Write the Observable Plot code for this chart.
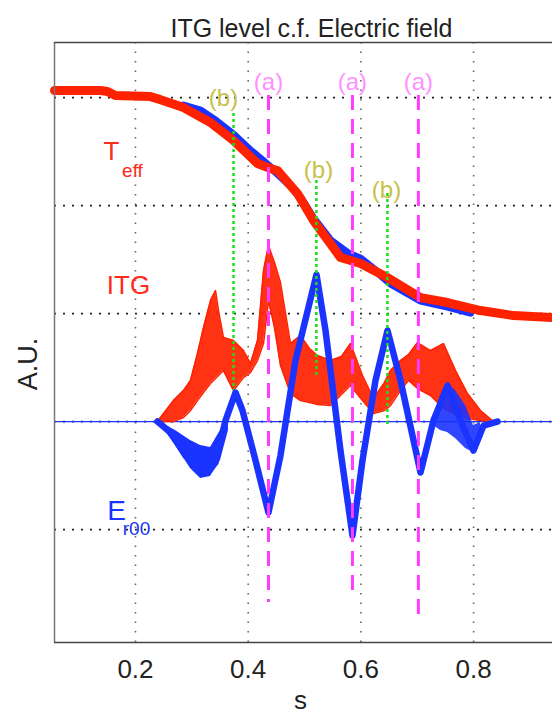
<!DOCTYPE html>
<html><head><meta charset="utf-8">
<script src="https://cdn.jsdelivr.net/npm/d3@7"></script>
<script src="https://cdn.jsdelivr.net/npm/@observablehq/plot@0.6"></script>
<style>html,body{margin:0;padding:0;background:#fff;}</style>
</head><body><div id="chart"></div>
<script>
// ---- data ----
const xTicks = [0.2, 0.4, 0.6, 0.8];
const yGrid = [-1, 0, 1, 2, 3];

// T_eff, red (simulation) and blue (reference)
const tRedS = [0.0563,0.1379,0.1503,0.1645,0.2266,0.2444,0.2852,0.3331,0.3739,0.4165,0.4396,0.4520,0.4875,0.5159,0.5638,0.5993,0.6472,0.7058,0.7537,0.8122,0.8708,0.9400];
const tRedV = [3.065,3.065,3.056,3.019,3.009,2.981,2.907,2.769,2.602,2.389,2.343,2.324,2.111,1.861,1.519,1.463,1.333,1.148,1.102,1.028,0.981,0.963];
const tBlueS = [0.2852,0.3154,0.3420,0.3739,0.4041,0.4254,0.4520,0.4751,0.4928,0.5159,0.5461,0.5763,0.5993,0.6260,0.6526,0.7058,0.7537,0.7945];
const tBlueV = [2.926,2.880,2.787,2.657,2.509,2.417,2.296,2.185,2.074,1.880,1.676,1.560,1.509,1.398,1.278,1.120,1.065,1.009];

// ITG ensemble envelope
const itgS  = [0.2390,0.2674,0.2852,0.2976,0.3100,0.3207,0.3331,0.3420,0.3473,0.3562,0.3739,0.3917,0.4041,0.4165,0.4272,0.4360,0.4467,0.4573,0.4751,0.4928,0.5088,0.5230,0.5461,0.5656,0.5815,0.6028,0.6224,0.6419,0.6525,0.6703,0.6845,0.7004,0.7235,0.7466,0.7679,0.7892,0.8122,0.8353];
const itgHi = [0,0.194,0.287,0.380,0.630,0.870,1.120,1.213,1.028,0.778,0.750,0.657,0.537,0.750,1.398,1.630,1.472,1.287,0.722,0.796,0.676,0.611,0.565,0.602,0.722,0.426,0.213,0.361,0.472,0.565,0.620,0.731,0.657,0.722,0.472,0.259,0.102,0];
const itgLo = [0,0,0.037,0.102,0.194,0.269,0.352,0.398,0.426,0.472,0.287,0.407,0.454,0.565,0.722,1.120,0.870,0.519,0.259,0.194,0.176,0.157,0.148,0.250,0.333,0.194,0.074,0.102,0.148,0.287,0.380,0.306,0.241,0.120,0.065,0.028,0.009,0];

// E_r00 ensemble (centre line + two spread regions)
const eS = [0.2390,0.2621,0.2887,0.3154,0.3278,0.3420,0.3597,0.3775,0.3899,0.4130,0.4360,0.4573,0.4839,0.5212,0.5372,0.5638,0.5851,0.6028,0.6259,0.6472,0.6703,0.7058,0.7288,0.7537,0.7768,0.7998,0.8176,0.8424];
const eV = [0,-0.102,-0.315,-0.417,-0.472,-0.380,0.009,0.269,0.102,-0.361,-0.843,-0.315,0.565,1.361,0.843,-0.269,-1.056,-0.361,0.380,0.843,0.380,-0.472,0.009,0.333,0.009,-0.269,-0.037,0];
const eBlobS  = [0.2444,0.2710,0.2976,0.3154,0.3331,0.3508,0.3650];
const eBlobHi = [-0.009,-0.083,-0.176,-0.222,-0.241,-0.083,0.102];
const eBlobLo = [-0.028,-0.222,-0.435,-0.528,-0.509,-0.361,-0.083];
const eBandS  = [0.7288,0.7413,0.7537,0.7679,0.7857,0.7998,0.8122];
const eBandHi = [0.028,0.241,0.352,0.287,0.148,-0.037,-0.009];
const eBandLo = [-0.037,-0.083,-0.102,-0.157,-0.250,-0.287,-0.065];

// markers (a): ITG peaks / E minima ; (b): E maxima
const aS = [0.436, 0.585, 0.702];
const aTop = [3.019, 3.019, 3.019];
const aBottom = [-1.676, -1.639, -1.796];
const aLabelV = 3.139;
const bS = [0.374, 0.521, 0.647];
const bTop = [2.852, 2.231, 2.111];
const bBottom = [0.287, 0.407, -0.056];
const bLabelS = [0.3562, 0.5248, 0.6454];
const bLabelV = [2.991, 2.324, 2.139];

// text
const titleText = "ITG level c.f. Electric field";
const xLabel = "s";
const yLabel = "A.U.";
const seriesLabels = [
  {s: 0.1574, v: 2.50, t: "T", c: "red", size: 26},
  {s: 0.1947, v: 2.324, t: "eff", c: "red", size: 19},
  {s: 0.1876, v: 1.259, t: "ITG", c: "red", size: 26},
  {s: 0.1663, v: -0.833, t: "E", c: "blue", size: 28},
  {s: 0.2018, v: -0.991, t: "r00", c: "blue", size: 19}
];

// ---- build ----
const pts = (xs, ys) => xs.map((s, i) => ({s, v: ys[i]}));
const band = (xs, hi, lo) => xs.map((s, i) => ({s, hi: hi[i], lo: lo[i]}));
const RED = "#ff2200", BLUE = "#1a33ff", MAG = "#ff3cff", GREEN = "#19e019", OLIVE = "#c8c048";
const colorOf = {red: "#ff2a1a", blue: BLUE};
const font = "'Liberation Sans', Arial, Helvetica, sans-serif";

const itg = band(itgS, itgHi, itgLo);
const eBlob = band(eBlobS, eBlobHi, eBlobLo);
const eBand = band(eBandS, eBandHi, eBandLo);
const aLines = aS.map((s, i) => ({s, y1: aTop[i], y2: aBottom[i]}));
const bLines = bS.map((s, i) => ({s, y1: bTop[i], y2: bBottom[i]}));
const yDom = [-2.046, 3.51], xDom = [0.0563, 0.940];

const chart = Plot.plot({
  width: 552, height: 717,
  marginTop: 42, marginBottom: 75, marginLeft: 54, marginRight: 0,
  style: {fontFamily: font, fontSize: "26px", background: "white", color: "#222", overflow: "visible"},
  x: {domain: xDom, ticks: xTicks, tickFormat: d => d.toFixed(1), tickSize: 0, tickPadding: 17, label: null},
  y: {domain: yDom, axis: null},
  marks: [
    Plot.ruleX(xTicks, {stroke: "#666", strokeDasharray: "1.5,8", strokeWidth: 1.6}),
    Plot.ruleY(yGrid, {stroke: "#222", strokeDasharray: "2,7", strokeWidth: 1.8}),
    Plot.ruleY([0], {stroke: BLUE, strokeWidth: 1.3}),
    // T_eff
    Plot.line(pts(tBlueS, tBlueV), {x: "s", y: "v", stroke: BLUE, strokeWidth: 8, curve: "linear"}),
    Plot.line(pts(tRedS, tRedV), {x: "s", y: "v", stroke: RED, strokeWidth: 9, curve: "linear"}),
    // ITG ensemble
    Plot.areaY(itg, {x: "s", y1: "lo", y2: "hi", fill: RED, fillOpacity: 0.92}),
    Plot.line(itg, {x: "s", y: "hi", stroke: RED, strokeWidth: 1.5}),
    Plot.line(itg, {x: "s", y: "lo", stroke: RED, strokeWidth: 1.5}),
    // E_r00 ensemble
    Plot.areaY(eBlob, {x: "s", y1: "lo", y2: "hi", fill: BLUE}),
    Plot.areaY(eBand, {x: "s", y1: "lo", y2: "hi", fill: BLUE, fillOpacity: 0.9}),
    Plot.line(pts(eS, eV), {x: "s", y: "v", stroke: BLUE, strokeWidth: 6.5, strokeLinejoin: "round"}),
    // markers
    Plot.ruleX(bLines, {x: "s", y1: "y1", y2: "y2", stroke: GREEN, strokeWidth: 2.5, strokeDasharray: "3,3"}),
    Plot.ruleX(aLines, {x: "s", y1: "y1", y2: "y2", stroke: MAG, strokeWidth: 3, strokeDasharray: "15,9"}),
    Plot.text(aS, {x: d => d, y: () => aLabelV, text: () => "(a)", fill: "#ff90ff", fontSize: 24, fontFamily: font}),
    Plot.text(bLabelS, {x: d => d, y: (d, i) => bLabelV[i], text: () => "(b)", fill: OLIVE, fontSize: 24, fontFamily: font}),
    // series labels
    Plot.text(seriesLabels, {x: "s", y: "v", text: "t", fill: d => colorOf[d.c], fontSize: d => d.size, fontFamily: font}),
    // frame
    Plot.ruleX([xDom[0]], {stroke: "#777", strokeWidth: 1.5}),
    Plot.ruleY([yDom[1], yDom[0]], {stroke: "#444", strokeWidth: 1.5}),
    // title and axis labels
    Plot.text([titleText], {x: 0.5123, frameAnchor: "top", dy: -23, fontSize: 25, fill: "#222", fontFamily: font}),
    Plot.text([xLabel], {x: 0.4928, frameAnchor: "bottom", dy: 66, fontSize: 26, fill: "#222", fontFamily: font}),
    Plot.text([yLabel], {y: 0.29, frameAnchor: "left", dx: -26, rotate: -90, fontSize: 27, fill: "#222", fontFamily: font})
  ]
});
document.getElementById("chart").append(chart);
</script>
</body></html>
